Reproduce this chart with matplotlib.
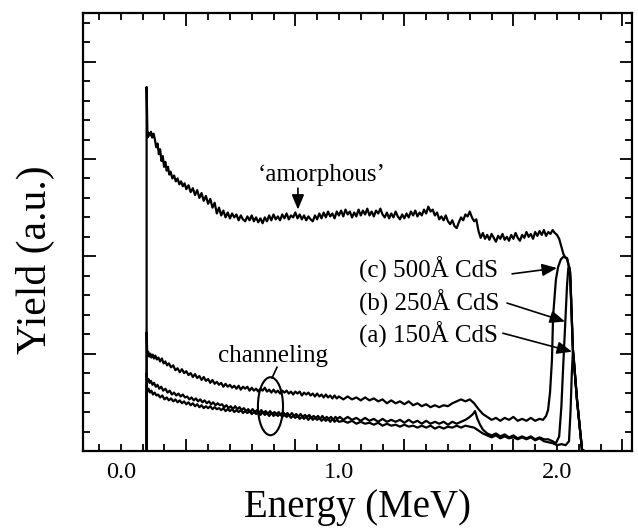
import matplotlib
matplotlib.use("Agg")
import matplotlib.pyplot as plt
from matplotlib.patches import Ellipse
from matplotlib.ticker import FixedLocator, FixedFormatter

plt.rcParams['font.family'] = ['Liberation Serif', 'DejaVu Serif']

# ---------------- data (energy in MeV, yield in arbitrary units) ----------------
amorph_energy = [0.118, 0.118, 0.122, 0.126, 0.132, 0.138, 0.144, 0.150, 0.156, 0.162, 0.168, 0.174,
                 0.180, 0.186, 0.192, 0.198, 0.204, 0.210, 0.216, 0.222, 0.228, 0.236, 0.244, 0.252,
                 0.260, 0.268, 0.276, 0.284, 0.292, 0.300, 0.310, 0.320, 0.330, 0.340, 0.350, 0.360,
                 0.370, 0.380, 0.390, 0.400, 0.410, 0.420, 0.430, 0.440, 0.450, 0.460, 0.470, 0.480,
                 0.490, 0.500, 0.510, 0.520, 0.530, 0.540, 0.550, 0.560, 0.570, 0.580, 0.590, 0.600,
                 0.610, 0.620, 0.630, 0.640, 0.650, 0.660, 0.670, 0.680, 0.690, 0.700, 0.710, 0.720,
                 0.730, 0.740, 0.750, 0.760, 0.770, 0.780, 0.790, 0.800, 0.810, 0.820, 0.830, 0.840,
                 0.850, 0.860, 0.870, 0.880, 0.890, 0.900, 0.910, 0.920, 0.930, 0.940, 0.950, 0.960,
                 0.970, 0.980, 0.990, 1.000, 1.010, 1.020, 1.030, 1.040, 1.050, 1.060, 1.070, 1.080,
                 1.090, 1.100, 1.110, 1.120, 1.130, 1.140, 1.150, 1.160, 1.170, 1.180, 1.190, 1.200,
                 1.210, 1.220, 1.230, 1.240, 1.250, 1.260, 1.270, 1.280, 1.290, 1.300, 1.310, 1.320,
                 1.330, 1.340, 1.350, 1.360, 1.370, 1.380, 1.390, 1.400, 1.410, 1.420, 1.430, 1.440,
                 1.450, 1.460, 1.470, 1.480, 1.490, 1.500, 1.510, 1.520, 1.530, 1.540, 1.550, 1.560,
                 1.570, 1.580, 1.590, 1.600, 1.610, 1.620, 1.630, 1.640, 1.650, 1.660, 1.670, 1.680,
                 1.690, 1.700, 1.710, 1.720, 1.730, 1.740, 1.750, 1.760, 1.770, 1.780, 1.790, 1.800,
                 1.810, 1.820, 1.830, 1.840, 1.850, 1.860, 1.870, 1.880, 1.890, 1.900, 1.910, 1.920,
                 1.930, 1.940, 1.950, 1.960, 1.970, 1.980, 1.990, 2.000, 2.010, 2.020, 2.030, 2.040,
                 2.046, 2.060, 2.073, 2.092, 2.115, 2.125]
amorph_yield = [0.00, 3.74, 3.22, 3.27, 3.24, 3.28, 3.22, 3.26, 3.20, 3.12, 3.16, 3.05,
                3.10, 2.98, 3.03, 2.92, 2.97, 2.88, 2.92, 2.84, 2.87, 2.80, 2.83, 2.77,
                2.80, 2.74, 2.77, 2.72, 2.75, 2.69, 2.73, 2.66, 2.70, 2.63, 2.68, 2.60,
                2.65, 2.57, 2.62, 2.54, 2.59, 2.50, 2.55, 2.44, 2.50, 2.42, 2.47, 2.40,
                2.45, 2.39, 2.44, 2.40, 2.43, 2.37, 2.42, 2.38, 2.36, 2.41, 2.37, 2.42,
                2.36, 2.40, 2.35, 2.39, 2.34, 2.40, 2.36, 2.42, 2.37, 2.43, 2.38, 2.41,
                2.37, 2.43, 2.39, 2.44, 2.38, 2.42, 2.40, 2.45, 2.39, 2.43, 2.38, 2.42,
                2.37, 2.41, 2.38, 2.36, 2.42, 2.38, 2.44, 2.39, 2.45, 2.40, 2.46, 2.41,
                2.44, 2.39, 2.46, 2.42, 2.47, 2.41, 2.48, 2.43, 2.46, 2.40, 2.45, 2.41,
                2.48, 2.42, 2.47, 2.43, 2.49, 2.42, 2.46, 2.41, 2.47, 2.44, 2.49, 2.43,
                2.40, 2.45, 2.39, 2.44, 2.40, 2.46, 2.41, 2.38, 2.43, 2.39, 2.44, 2.40,
                2.46, 2.42, 2.47, 2.41, 2.45, 2.42, 2.48, 2.44, 2.51, 2.46, 2.48, 2.42,
                2.45, 2.38, 2.41, 2.37, 2.42, 2.36, 2.33, 2.37, 2.31, 2.29, 2.35, 2.40,
                2.37, 2.43, 2.41, 2.46, 2.40, 2.36, 2.38, 2.26, 2.19, 2.24, 2.18, 2.22,
                2.17, 2.23, 2.19, 2.15, 2.21, 2.18, 2.23, 2.17, 2.20, 2.16, 2.22, 2.18,
                2.24, 2.19, 2.16, 2.22, 2.19, 2.25, 2.20, 2.23, 2.18, 2.25, 2.21, 2.26,
                2.22, 2.27, 2.21, 2.25, 2.23, 2.27, 2.24, 2.22, 2.18, 2.10, 2.02, 1.98,
                1.98, 1.84, 1.04, 0.52, 0.01, 0.00]

chan_c_energy = [0.118, 0.118, 0.121, 0.125, 0.130, 0.135, 0.140, 0.146, 0.152, 0.158, 0.165, 0.172,
                 0.180, 0.188, 0.196, 0.204, 0.212, 0.220, 0.230, 0.240, 0.250, 0.260, 0.270, 0.280,
                 0.290, 0.300, 0.310, 0.320, 0.330, 0.340, 0.350, 0.360, 0.370, 0.380, 0.390, 0.400,
                 0.410, 0.420, 0.430, 0.440, 0.450, 0.460, 0.470, 0.480, 0.490, 0.500, 0.510, 0.520,
                 0.530, 0.540, 0.550, 0.560, 0.570, 0.580, 0.590, 0.600, 0.610, 0.620, 0.630, 0.640,
                 0.650, 0.660, 0.670, 0.680, 0.690, 0.700, 0.710, 0.720, 0.730, 0.740, 0.750, 0.760,
                 0.770, 0.780, 0.790, 0.800, 0.810, 0.820, 0.830, 0.840, 0.850, 0.860, 0.870, 0.880,
                 0.890, 0.900, 0.910, 0.920, 0.930, 0.940, 0.950, 0.960, 0.970, 0.980, 0.990, 1.000,
                 1.020, 1.040, 1.060, 1.080, 1.100, 1.120, 1.140, 1.160, 1.180, 1.200, 1.220, 1.240,
                 1.260, 1.280, 1.300, 1.320, 1.340, 1.360, 1.380, 1.400, 1.420, 1.440, 1.460, 1.480,
                 1.500, 1.520, 1.540, 1.560, 1.580, 1.600, 1.620, 1.640, 1.660, 1.680, 1.700, 1.720,
                 1.740, 1.760, 1.780, 1.800, 1.820, 1.840, 1.860, 1.880, 1.900, 1.920, 1.936, 1.950,
                 1.959, 1.968, 1.977, 1.982, 1.995, 2.005, 2.018, 2.032, 2.046, 2.060, 2.073, 2.092,
                 2.115, 2.125]
chan_c_yield = [0.00, 1.22, 0.98, 1.02, 0.97, 1.00, 0.96, 0.99, 0.95, 0.98, 0.94, 0.96,
                0.92, 0.95, 0.90, 0.92, 0.88, 0.90, 0.86, 0.88, 0.83, 0.85, 0.81, 0.84,
                0.80, 0.82, 0.78, 0.80, 0.76, 0.79, 0.75, 0.77, 0.73, 0.76, 0.72, 0.74,
                0.70, 0.73, 0.69, 0.71, 0.68, 0.70, 0.66, 0.69, 0.66, 0.68, 0.65, 0.67,
                0.64, 0.67, 0.63, 0.66, 0.64, 0.66, 0.62, 0.65, 0.62, 0.64, 0.61, 0.64,
                0.62, 0.65, 0.61, 0.63, 0.60, 0.63, 0.60, 0.62, 0.59, 0.62, 0.60, 0.62,
                0.59, 0.61, 0.58, 0.61, 0.59, 0.61, 0.57, 0.60, 0.58, 0.60, 0.57, 0.59,
                0.56, 0.59, 0.56, 0.58, 0.55, 0.58, 0.55, 0.57, 0.54, 0.57, 0.54, 0.56,
                0.53, 0.56, 0.53, 0.55, 0.52, 0.55, 0.52, 0.54, 0.51, 0.53, 0.49, 0.52,
                0.49, 0.51, 0.48, 0.51, 0.47, 0.49, 0.46, 0.48, 0.45, 0.47, 0.45, 0.47,
                0.46, 0.49, 0.51, 0.53, 0.51, 0.53, 0.49, 0.43, 0.38, 0.35, 0.32, 0.34,
                0.31, 0.34, 0.32, 0.35, 0.31, 0.33, 0.31, 0.34, 0.31, 0.33, 0.32, 0.36,
                0.42, 0.60, 0.94, 1.38, 1.76, 1.89, 1.97, 2.00, 1.98, 1.84, 1.04, 0.52,
                0.01, 0.00]

chan_b_energy = [0.118, 0.118, 0.121, 0.126, 0.132, 0.138, 0.145, 0.152, 0.160, 0.168, 0.176, 0.185,
                 0.194, 0.204, 0.214, 0.224, 0.234, 0.244, 0.254, 0.264, 0.274, 0.284, 0.294, 0.304,
                 0.314, 0.324, 0.334, 0.344, 0.354, 0.364, 0.374, 0.384, 0.394, 0.404, 0.414, 0.424,
                 0.434, 0.444, 0.454, 0.464, 0.474, 0.484, 0.494, 0.504, 0.514, 0.524, 0.534, 0.544,
                 0.554, 0.564, 0.574, 0.584, 0.594, 0.604, 0.614, 0.624, 0.634, 0.644, 0.654, 0.664,
                 0.674, 0.684, 0.694, 0.704, 0.714, 0.724, 0.734, 0.744, 0.754, 0.764, 0.774, 0.784,
                 0.794, 0.804, 0.814, 0.824, 0.834, 0.844, 0.854, 0.864, 0.874, 0.884, 0.894, 0.904,
                 0.914, 0.924, 0.934, 0.944, 0.954, 0.964, 0.974, 0.984, 0.994, 1.004, 1.020, 1.040,
                 1.060, 1.080, 1.100, 1.120, 1.140, 1.160, 1.180, 1.200, 1.220, 1.240, 1.260, 1.280,
                 1.300, 1.320, 1.340, 1.360, 1.380, 1.400, 1.420, 1.440, 1.460, 1.480, 1.500, 1.520,
                 1.540, 1.560, 1.580, 1.600, 1.615, 1.624, 1.635, 1.647, 1.660, 1.680, 1.700, 1.720,
                 1.740, 1.760, 1.780, 1.800, 1.820, 1.840, 1.860, 1.880, 1.900, 1.920, 1.940, 1.960,
                 1.980, 1.995, 2.010, 2.020, 2.028, 2.037, 2.046, 2.052, 2.057, 2.062, 2.073, 2.092,
                 2.115, 2.125]
chan_b_yield = [0.00, 0.80, 0.71, 0.74, 0.70, 0.72, 0.68, 0.70, 0.66, 0.68, 0.64, 0.66,
                0.62, 0.64, 0.60, 0.62, 0.58, 0.60, 0.57, 0.59, 0.56, 0.58, 0.55, 0.56,
                0.53, 0.55, 0.52, 0.54, 0.51, 0.53, 0.50, 0.52, 0.49, 0.51, 0.48, 0.50,
                0.47, 0.49, 0.47, 0.48, 0.45, 0.47, 0.44, 0.46, 0.43, 0.46, 0.43, 0.45,
                0.42, 0.44, 0.41, 0.43, 0.40, 0.43, 0.40, 0.42, 0.39, 0.42, 0.39, 0.41,
                0.38, 0.41, 0.38, 0.40, 0.38, 0.40, 0.37, 0.40, 0.37, 0.39, 0.36, 0.39,
                0.36, 0.38, 0.35, 0.38, 0.35, 0.37, 0.35, 0.37, 0.34, 0.36, 0.34, 0.36,
                0.33, 0.36, 0.33, 0.35, 0.33, 0.35, 0.32, 0.35, 0.33, 0.35, 0.32, 0.35,
                0.32, 0.34, 0.31, 0.34, 0.31, 0.33, 0.30, 0.33, 0.30, 0.32, 0.30, 0.32,
                0.29, 0.32, 0.29, 0.31, 0.28, 0.31, 0.28, 0.30, 0.28, 0.30, 0.27, 0.30,
                0.28, 0.30, 0.32, 0.35, 0.38, 0.41, 0.33, 0.27, 0.22, 0.18, 0.16, 0.18,
                0.15, 0.17, 0.14, 0.16, 0.13, 0.15, 0.13, 0.15, 0.12, 0.14, 0.12, 0.12,
                0.10, 0.08, 0.15, 0.45, 0.85, 1.27, 1.70, 1.88, 1.89, 1.75, 1.04, 0.52,
                0.01, 0.00]

chan_a_energy = [0.118, 0.118, 0.121, 0.127, 0.133, 0.140, 0.147, 0.155, 0.163, 0.171, 0.180, 0.190,
                 0.200, 0.210, 0.220, 0.230, 0.240, 0.250, 0.260, 0.270, 0.280, 0.290, 0.300, 0.310,
                 0.320, 0.330, 0.340, 0.350, 0.360, 0.370, 0.380, 0.390, 0.400, 0.410, 0.420, 0.430,
                 0.440, 0.450, 0.460, 0.470, 0.480, 0.490, 0.500, 0.510, 0.520, 0.530, 0.540, 0.550,
                 0.560, 0.570, 0.580, 0.590, 0.600, 0.610, 0.620, 0.630, 0.640, 0.650, 0.660, 0.670,
                 0.680, 0.690, 0.700, 0.710, 0.720, 0.730, 0.740, 0.750, 0.760, 0.770, 0.780, 0.790,
                 0.800, 0.810, 0.820, 0.830, 0.840, 0.850, 0.860, 0.870, 0.880, 0.890, 0.900, 0.910,
                 0.920, 0.930, 0.940, 0.950, 0.960, 0.970, 0.980, 0.990, 1.000, 1.020, 1.040, 1.060,
                 1.080, 1.100, 1.120, 1.140, 1.160, 1.180, 1.200, 1.220, 1.240, 1.260, 1.280, 1.300,
                 1.320, 1.340, 1.360, 1.380, 1.400, 1.420, 1.440, 1.460, 1.480, 1.500, 1.520, 1.540,
                 1.560, 1.580, 1.600, 1.620, 1.640, 1.660, 1.680, 1.700, 1.720, 1.740, 1.760, 1.780,
                 1.800, 1.820, 1.840, 1.860, 1.880, 1.900, 1.920, 1.940, 1.960, 1.980, 2.000, 2.020,
                 2.040, 2.055, 2.062, 2.068, 2.073, 2.078, 2.092, 2.115, 2.125]
chan_a_yield = [0.00, 0.68, 0.61, 0.64, 0.60, 0.62, 0.58, 0.60, 0.57, 0.58, 0.55, 0.57,
                0.53, 0.55, 0.52, 0.54, 0.51, 0.53, 0.50, 0.52, 0.49, 0.51, 0.48, 0.50,
                0.47, 0.49, 0.46, 0.48, 0.45, 0.47, 0.44, 0.46, 0.44, 0.46, 0.43, 0.45,
                0.43, 0.44, 0.42, 0.44, 0.41, 0.43, 0.41, 0.43, 0.40, 0.42, 0.40, 0.42,
                0.39, 0.41, 0.39, 0.41, 0.38, 0.40, 0.38, 0.40, 0.37, 0.40, 0.37, 0.39,
                0.36, 0.39, 0.36, 0.38, 0.36, 0.38, 0.35, 0.37, 0.35, 0.37, 0.34, 0.36,
                0.34, 0.36, 0.33, 0.35, 0.33, 0.35, 0.32, 0.35, 0.32, 0.34, 0.32, 0.34,
                0.31, 0.33, 0.31, 0.33, 0.30, 0.33, 0.30, 0.32, 0.30, 0.31, 0.29, 0.31,
                0.28, 0.30, 0.28, 0.29, 0.27, 0.29, 0.26, 0.28, 0.26, 0.27, 0.25, 0.27,
                0.25, 0.26, 0.24, 0.26, 0.24, 0.26, 0.23, 0.25, 0.23, 0.25, 0.24, 0.26,
                0.24, 0.26, 0.25, 0.24, 0.21, 0.18, 0.16, 0.14, 0.16, 0.13, 0.15, 0.13,
                0.14, 0.12, 0.14, 0.12, 0.14, 0.11, 0.13, 0.10, 0.09, 0.08, 0.06, 0.07,
                0.06, 0.10, 0.40, 0.80, 1.02, 0.93, 0.52, 0.01, 0.00]

sample_labels = ["(c) 500Å CdS", "(b) 250Å CdS", "(a) 150Å CdS"]
x_label_ticks = [0.0, 1.0, 2.0]
x_tick_labels = ["0.0", "1.0", "2.0"]

# ---------------- figure ----------------
fig = plt.figure(figsize=(6.38, 5.31), dpi=100)
ax = fig.add_axes([0.130, 0.1507, 0.8606, 0.8248])

lw = 1.6
for e, y in [(amorph_energy, amorph_yield), (chan_c_energy, chan_c_yield),
             (chan_b_energy, chan_b_yield), (chan_a_energy, chan_a_yield)]:
    ax.plot(e, y, color='black', lw=lw, solid_joinstyle='round')

ax.set_xlim(-0.174, 2.344)
ax.set_ylim(0.0, 4.5)

# ticks
long_x = [0.3, 0.8, 1.3, 1.8, 2.3]
short_x = [round(-0.1 + 0.1 * k, 1) for k in range(25)]
short_x = [v for v in short_x if all(abs(v - l) > 1e-6 for l in long_x)]
ax.xaxis.set_major_locator(FixedLocator(long_x))
ax.xaxis.set_major_formatter(FixedFormatter([""] * len(long_x)))
ax.xaxis.set_minor_locator(FixedLocator(short_x))
ax.xaxis.set_minor_formatter(FixedFormatter(
    [x_tick_labels[x_label_ticks.index(v)] if v in x_label_ticks else "" for v in short_x]))
ax.yaxis.set_major_locator(FixedLocator([1, 2, 3, 4]))
ax.yaxis.set_minor_locator(FixedLocator([round(0.2 * k, 1) for k in range(23)]))
ax.yaxis.set_major_formatter(FixedFormatter([""] * 4))
ax.tick_params(which='both', direction='in', top=True, right=True, width=1.3, colors='black')
ax.tick_params(which='major', length=9)
ax.tick_params(which='minor', length=5, labelsize=17.5, pad=8)
for s in ax.spines.values():
    s.set_linewidth(1.6)

arrow_style = dict(arrowstyle='-|>,head_length=0.6,head_width=0.25',
                   mutation_scale=15, color='black', lw=1.2, shrinkA=0, shrinkB=0)

# annotations
ax.text(0.922, 2.77, "‘amorphous’", ha='center', va='baseline', fontsize=18)
ax.annotate("", xy=(0.812, 2.48), xytext=(0.812, 2.70), arrowprops=arrow_style)

label_y = [1.78, 1.44, 1.11]
arrow_from = [(1.794, 1.82), (1.771, 1.52), (1.752, 1.21)]
arrow_to = [(2.000, 1.88), (2.037, 1.33), (2.069, 1.02)]
for lab, ly, a0, a1 in zip(sample_labels, label_y, arrow_from, arrow_to):
    ax.text(1.092, ly, lab, ha='left', va='baseline', fontsize=18)
    ax.annotate("", xy=a1, xytext=a0, arrowprops=arrow_style)

ax.text(0.697, 0.91, "channeling", ha='center', va='baseline', fontsize=18)
ax.plot([0.716, 0.693], [0.86, 0.75], color='black', lw=1.2)
ax.add_patch(Ellipse((0.686, 0.46), 0.115, 0.596, fill=False, edgecolor='black', lw=1.5))

fig.text(357 / 638, 1 - 507 / 531, "Energy (MeV)", ha='center', va='center', fontsize=28)
fig.text(35 / 638, 1 - 260 / 531, "Yield (a.u.)", ha='center', va='center', fontsize=30,
         rotation=90)

fig.savefig("out.png", dpi=100)
